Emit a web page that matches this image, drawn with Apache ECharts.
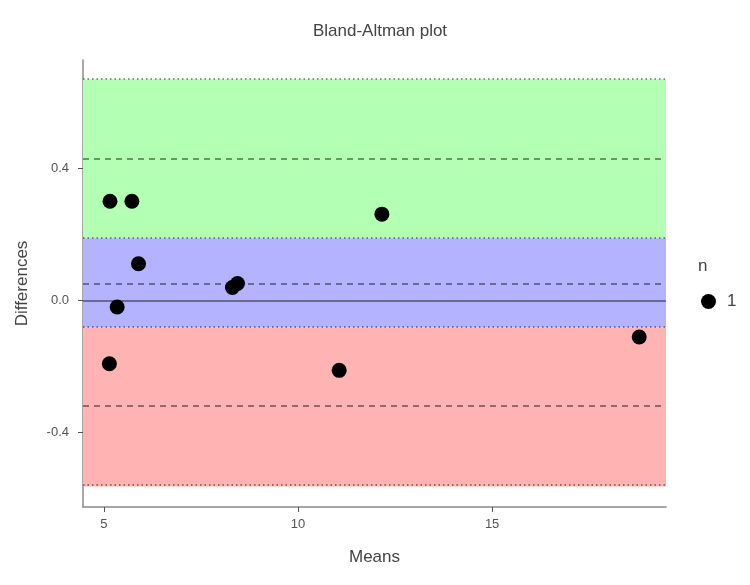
<!DOCTYPE html>
<html>
<head>
<meta charset="utf-8">
<script src="https://cdn.jsdelivr.net/npm/echarts@6/dist/echarts.min.js"></script>
<style>html,body{margin:0;padding:0;background:#fff}#c{width:750px;height:585px}</style>
</head>
<body>
<div id="c"></div>
<script>
// Data
const means = [5.155, 5.72, 5.89, 5.34, 5.14, 8.31, 8.44, 12.16, 11.06, 18.79];
const diffs = [0.300, 0.300, 0.111, -0.020, -0.192, 0.039, 0.051, 0.261, -0.212, -0.111];
const xTicks = [5, 10, 15];
const yTicks = [-0.4, 0.0, 0.4];
// Bland-Altman statistics: mean bias, limits of agreement, and their confidence bounds
const bias = 0.0515;
const upperLoA = 0.430;
const lowerLoA = -0.324;
const bandNames = ['upper', 'mean', 'lower'];
const bandLow  = [0.188, -0.082, -0.564];
const bandHigh = [0.670, 0.188, -0.082];
const dottedLines = [0.670, 0.188, -0.082, -0.564];
const dashedLines = [upperLoA, bias, lowerLoA];
const zeroLine = [0];

const bandColors = ['rgb(179,255,179)', 'rgb(179,179,255)', 'rgb(255,179,179)'];
const lineColor = 'rgba(0,0,0,0.55)';
const FONT = 'Liberation Sans, Arial, sans-serif';

const chart = echarts.init(document.getElementById('c'));
const points = means.map((m, i) => [m, diffs[i]]);

const areas = bandNames.map((n, i) => [
  { yAxis: bandLow[i], itemStyle: { color: bandColors[i], opacity: 1 } },
  { yAxis: bandHigh[i] }
]);
const lines = [].concat(
  dottedLines.map(v => ({ yAxis: v, lineStyle: { type: [1.5, 3], color: lineColor, width: 1.6 } })),
  dashedLines.map(v => ({ yAxis: v, lineStyle: { type: [6, 5], color: lineColor, width: 1.5 } })),
  zeroLine.map(v => ({ yAxis: v, lineStyle: { type: 'solid', color: lineColor, width: 1.5 } }))
);

chart.setOption({
  animation: false,
  title: {
    text: 'Bland-Altman plot',
    left: 375, top: 18, textAlign: 'center',
    textStyle: { fontFamily: FONT, fontSize: 17, fontWeight: 'normal', color: '#444' }
  },
  grid: { left: 83, right: 84, top: 60, bottom: 78 },
  legend: {
    data: ['1'],
    orient: 'vertical',
    left: 696, top: 288,
    icon: 'circle', itemWidth: 15, itemHeight: 15, itemGap: 6,
    textStyle: { fontFamily: FONT, fontSize: 17, color: '#444', padding: [0, 0, 0, 6] }
  },
  graphic: [{
    type: 'text', left: 698, top: 258,
    style: { text: 'n', fontFamily: FONT, fontSize: 17, fill: '#444' }
  }],
  xAxis: {
    type: 'value', min: 4.46, max: 19.48,
    name: 'Means', nameLocation: 'middle', nameGap: 42,
    nameTextStyle: { fontFamily: FONT, fontSize: 17, color: '#444' },
    axisLine: { show: true, onZero: false, lineStyle: { color: '#8a8a8a', width: 1.5 } },
    axisTick: { show: true, length: 5, customValues: xTicks, lineStyle: { color: '#555' } },
    axisLabel: { customValues: xTicks, fontFamily: FONT, fontSize: 13, color: '#555', margin: 11 },
    splitLine: { show: false }
  },
  yAxis: {
    type: 'value', min: -0.626, max: 0.728,
    name: 'Differences', nameLocation: 'middle', nameGap: 52,
    nameTextStyle: { fontFamily: FONT, fontSize: 17, color: '#444' },
    axisLine: { show: true, onZero: false, lineStyle: { color: '#8a8a8a', width: 1.5 } },
    axisTick: { show: true, length: 5, customValues: yTicks, lineStyle: { color: '#555' } },
    axisLabel: { customValues: yTicks, formatter: v => v.toFixed(1), fontFamily: FONT, fontSize: 13, color: '#555', margin: 14 },
    splitLine: { show: false }
  },
  series: [
    {
      name: 'bands', type: 'scatter', data: [], silent: true, z: 1,
      markArea: { silent: true, data: areas },
      markLine: { silent: true, symbol: 'none', label: { show: false }, data: lines }
    },
    {
      name: '1', type: 'scatter', data: points, symbol: 'circle', symbolSize: 15, z: 5,
      itemStyle: { color: '#000', opacity: 1 }
    }
  ]
});
</script>
</body>
</html>
